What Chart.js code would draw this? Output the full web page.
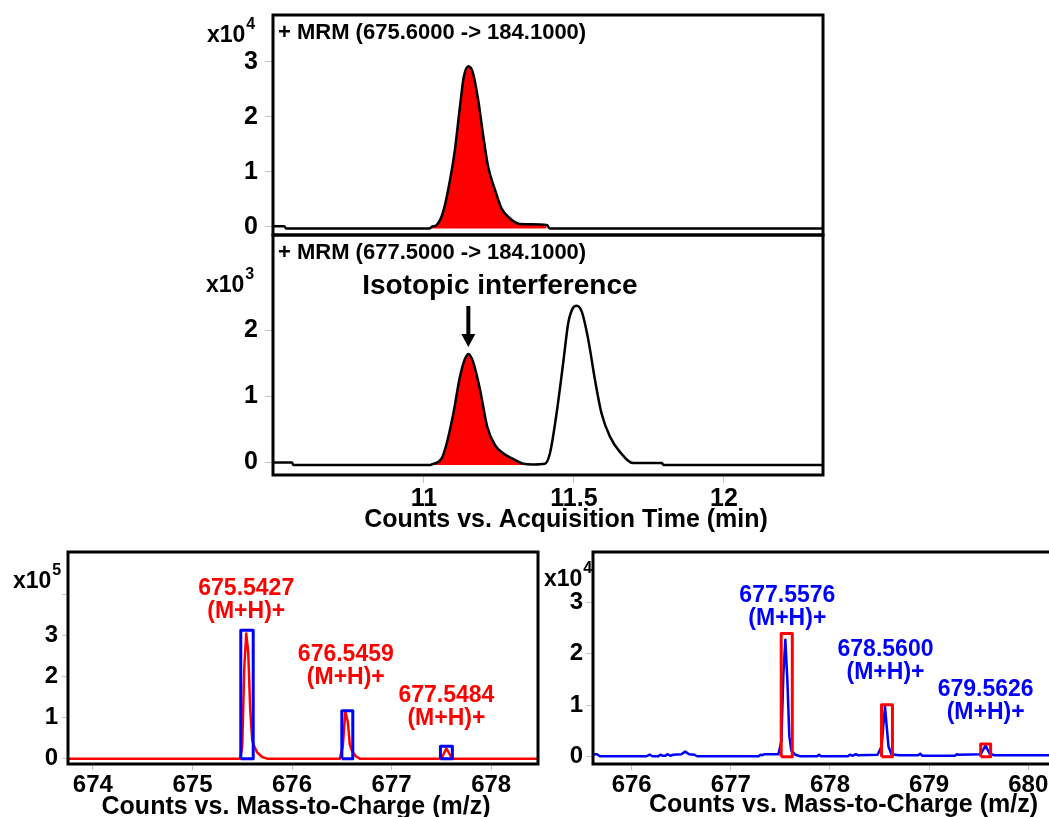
<!DOCTYPE html>
<html>
<head>
<meta charset="utf-8">
<script src="https://cdn.jsdelivr.net/npm/chart.js@4/dist/chart.umd.min.js"></script>
<style>
    html, body { margin: 0; padding: 0; background: #fff; width: 1049px; height: 817px; overflow: hidden; }
    canvas { position: absolute; }
</style>
</head>
<body>
<canvas id="topChart" width="1049" height="240" style="left:0;top:0"></canvas>
<canvas id="midChart" width="1049" height="310" style="left:0;top:230px"></canvas>
<canvas id="leftChart" width="545" height="277" style="left:0;top:540px"></canvas>
<canvas id="rightChart" width="540" height="277" style="left:530px;top:540px"></canvas>
<script>
const FONT = "'Liberation Sans', Arial, Helvetica, sans-serif";

// Chromatogram 1: + MRM (675.6000 -> 184.1000), counts x10^4
const topTime = [10.497, 10.535, 10.540, 11.020, 11.026, 11.042, 11.064, 11.087, 11.103, 11.120, 11.133, 11.148,
    11.162, 11.181, 11.198, 11.214, 11.237, 11.259, 11.287, 11.320, 11.409, 11.420, 12.33];
const topCounts = [0.01, 0.01, -0.03, -0.03, 0.0, 0.03, 0.27, 0.85, 1.39, 2.18, 2.73, 2.92,
    2.82, 2.30, 1.64, 1.09, 0.67, 0.33, 0.15, 0.05, 0.03, -0.03, -0.03];
const topFillRange = [11.02, 11.415];
const topYTicks = [0, 1, 2, 3];

// Chromatogram 2: + MRM (677.5000 -> 184.1000), counts x10^3
const midTime = [10.497, 10.56, 10.565, 11.02, 11.026, 11.059, 11.076, 11.098, 11.118, 11.133, 11.148, 11.164,
    11.187, 11.211, 11.237, 11.264, 11.298, 11.331, 11.364, 11.403, 11.42, 11.442, 11.464, 11.481,
    11.496, 11.509, 11.526, 11.548, 11.57, 11.592, 11.62, 11.653, 11.698, 11.792, 11.80, 12.33];
const midCounts = [0.0, 0.0, -0.04, -0.04, -0.03, 0.06, 0.29, 0.74, 1.25, 1.52, 1.64, 1.52,
    1.10, 0.54, 0.26, 0.14, 0.05, -0.02, -0.03, -0.02, 0.14, 0.74, 1.5, 2.11,
    2.33, 2.37, 2.28, 1.85, 1.25, 0.74, 0.39, 0.16, -0.01, -0.01, -0.04, -0.04];
const midFillRange = [11.02, 11.37];
const midYTicks = [0, 1, 2];
const timeTicks = [11, 11.5, 12];
const interferenceTime = 11.148;
const interferenceApex = 1.64;

// Mass spectrum (left, red), counts x10^5
const leftMz = [673.75, 675.48, 675.50, 675.52, 675.54, 675.56, 675.58, 675.60, 675.62, 675.65, 675.70, 675.75,
    676.48, 676.51, 676.535, 676.56, 676.58, 676.60, 676.64, 676.68,
    677.50, 677.53, 677.55, 677.58, 677.60, 677.62, 678.47];
const leftInt = [0, 0, 0.3, 2.2, 3.05, 2.6, 1.2, 0.45, 0.3, 0.15, 0.04, 0,
    0, 0.3, 1.15, 0.9, 0.35, 0.2, 0.06, 0,
    0, 0.15, 0.25, 0.12, 0.03, 0, 0];
const leftBoxFrom = [675.485, 676.50, 677.49];
const leftBoxTo = [675.61, 676.61, 677.61];
const leftBoxTop = [3.13, 1.17, 0.3];
const leftPeakMz = [675.54, 676.54, 677.55];
const leftPeakText = ['675.5427', '676.5459', '677.5484'];
const leftLabelY = [4.14, 2.53, 1.53];
const leftXTicks = [674, 675, 676, 677, 678];
const leftYTicks = [0, 1, 2, 3, 4];
const leftYLabels = ['0', '1', '2', '3', ''];

// Mass spectrum (right, blue), counts x10^4
const rightMz = [675.61, 675.65, 675.68, 676.15, 676.18, 676.21, 676.27, 676.29, 676.31, 676.34, 676.36, 676.39,
    676.42, 676.50, 676.54, 676.58, 676.63, 676.66, 677.28, 677.30, 677.32, 677.34, 677.48, 677.51,
    677.53, 677.55, 677.57, 677.59, 677.61, 677.65, 677.70, 677.87, 677.89, 677.91, 678.18, 678.20,
    678.23, 678.26, 678.28, 678.48, 678.52, 678.555, 678.59, 678.62, 678.70, 678.89, 678.91, 678.93,
    679.26, 679.28, 679.30, 679.52, 679.57, 679.61, 679.66, 680.32];
const rightInt = [0.05, 0.05, 0.01, 0.01, 0.04, 0.01, 0.01, 0.04, 0.02, 0.02, 0.05, 0.02,
    0.04, 0.05, 0.10, 0.05, 0.04, 0.01, 0.01, 0.04, 0.03, 0.05, 0.05, 0.3,
    1.6, 2.27, 1.5, 0.4, 0.12, 0.04, 0.01, 0.01, 0.04, 0.01, 0.01, 0.04,
    0.02, 0.05, 0.03, 0.04, 0.2, 0.97, 0.2, 0.05, 0.03, 0.03, 0.06, 0.02,
    0.02, 0.05, 0.04, 0.05, 0.22, 0.06, 0.03, 0.03];
const rightBoxFrom = [677.508, 678.52, 679.52];
const rightBoxTo = [677.62, 678.63, 679.62];
const rightBoxTop = [2.39, 1.01, 0.25];
const rightPeakMz = [677.57, 678.56, 679.57];
const rightPeakText = ['677.5576', '678.5600', '679.5626'];
const rightLabelY = [3.13, 2.08, 1.31];
const rightXTicks = [676, 677, 678, 679, 680];
const rightYTicks = [0, 1, 2, 3];

// helpers
function pts(xs, ys) {
    return xs.map((x, i) => ({ x: x, y: ys[i] }));
}
function between(xs, ys, lo, hi) {
    return pts(xs, ys).filter(p => p.x >= lo && p.x <= hi);
}
function boxPts(x0, x1, top) {
    return [{ x: x0, y: 0 }, { x: x0, y: top }, { x: x1, y: top }, { x: x1, y: 0 }, { x: x0, y: 0 }];
}
function lineSet(data, color, width, smooth) {
    const ds = { data: data, borderColor: color, borderWidth: width, pointRadius: 0, tension: 0, fill: false,
        borderJoinStyle: 'round' };
    if (smooth) ds.cubicInterpolationMode = 'monotone';
    return ds;
}
function boxSets(from, to, top, color) {
    return from.map((x0, i) => lineSet(boxPts(x0, to[i], top[i]), color, 3));
}

// draws frame, exponent, trace tag, axis title, peak labels, arrow
const decor = {
    id: 'decor',
    afterDraw(chart, args, o) {
        const ctx = chart.ctx, a = chart.chartArea;
        const xs = chart.scales.x, ys = chart.scales.y;
        ctx.save();
        ctx.strokeStyle = '#000';
        ctx.lineWidth = 3;
        ctx.strokeRect(a.left, a.top, a.right - a.left, a.bottom - a.top);
        ctx.fillStyle = '#000';

        if (o.exp) {
            ctx.textAlign = 'left';
            ctx.textBaseline = 'alphabetic';
            ctx.font = `bold 23px ${FONT}`;
            ctx.fillText('x10', o.exp.x, o.exp.y);
            const w = ctx.measureText('x10').width;
            ctx.font = `bold 16px ${FONT}`;
            ctx.fillText(o.exp.pow, o.exp.x + w + 1, o.exp.y - 13);
        }
        if (o.tag) {
            ctx.textAlign = 'left';
            ctx.textBaseline = 'middle';
            ctx.font = `bold 22px ${FONT}`;
            ctx.fillText(o.tag, a.left + 5, a.top + 18);
        }
        if (o.title) {
            ctx.textAlign = 'center';
            ctx.textBaseline = 'middle';
            ctx.font = `bold 25px ${FONT}`;
            ctx.fillText(o.title.text, (a.left + a.right) / 2 + o.title.dx, o.title.y);
        }
        (o.peaks || []).forEach(p => {
            const px = xs.getPixelForValue(p.x), py = ys.getPixelForValue(p.y);
            ctx.fillStyle = p.color;
            ctx.textAlign = 'center';
            ctx.textBaseline = 'middle';
            ctx.font = `bold 23px ${FONT}`;
            ctx.fillText(p.text, px, py);
            ctx.fillText('(M+H)+', px, py + 23);
        });
        if (o.note) {
            ctx.fillStyle = '#000';
            ctx.textAlign = 'center';
            ctx.textBaseline = 'middle';
            ctx.font = `bold 28px ${FONT}`;
            ctx.fillText(o.note.text, xs.getPixelForValue(o.note.x), ys.getPixelForValue(o.note.y));
        }
        if (o.arrow) {
            const px = xs.getPixelForValue(o.arrow.x);
            const tip = ys.getPixelForValue(o.arrow.y) - 7;
            ctx.fillStyle = '#000';
            ctx.fillRect(px - 2, tip - 41, 4, 30);
            ctx.beginPath();
            ctx.moveTo(px - 7, tip - 13);
            ctx.lineTo(px + 7, tip - 13);
            ctx.lineTo(px, tip);
            ctx.closePath();
            ctx.fill();
        }
        ctx.restore();
    }
};

function buildChart(id, s) {
    const tickFont = { family: FONT, size: s.tickSize, weight: 'bold' };
    return new Chart(document.getElementById(id), {
        type: 'line',
        data: { datasets: s.datasets },
        plugins: [decor],
        options: {
            responsive: false,
            animation: false,
            devicePixelRatio: 1,
            events: [],
            layout: { padding: s.pad },
            plugins: { legend: { display: false }, tooltip: { enabled: false }, decor: s.decor },
            scales: {
                x: {
                    type: 'linear', min: s.xMin, max: s.xMax, display: s.showX,
                    afterBuildTicks: sc => { sc.ticks = s.xTicks.map(v => ({ value: v })); },
                    afterFit: sc => { sc.height = s.xH; sc.paddingLeft = 0; sc.paddingRight = 0; },
                    ticks: { color: '#000', font: tickFont, padding: s.xTickPad, maxRotation: 0, autoSkip: false,
                        callback: v => String(v) },
                    grid: { drawOnChartArea: false, tickLength: s.xTickLen, color: '#c4c4c4', lineWidth: 1 },
                    border: { display: false }
                },
                y: {
                    type: 'linear', min: s.yMin, max: s.yMax,
                    afterBuildTicks: sc => { sc.ticks = s.yTicks.map(v => ({ value: v })); },
                    afterFit: sc => { sc.width = s.yW; sc.paddingTop = 0; sc.paddingBottom = 0; },
                    ticks: { color: '#000', font: tickFont, padding: s.yTickPad, autoSkip: false,
                        callback: (v, i) => s.yLabels ? s.yLabels[i] : String(v) },
                    grid: { drawOnChartArea: false, tickLength: s.yTickLen, color: '#c4c4c4', lineWidth: 1 },
                    border: { display: false }
                }
            }
        }
    });
}

// top chromatogram
buildChart('topChart', {
    datasets: [
        lineSet(pts(topTime, topCounts), '#000', 2.5, true),
        Object.assign(lineSet(between(topTime, topCounts, topFillRange[0], topFillRange[1]), 'rgba(0,0,0,0)', 0, true),
            { fill: { value: -0.03 }, backgroundColor: '#ff0000' })
    ],
    xMin: 10.497, xMax: 12.33, xTicks: timeTicks, showX: false, xH: 0, xTickLen: 8, xTickPad: 3,
    yMin: -0.15, yMax: 3.85, yTicks: topYTicks, yW: 273, yTickLen: 8, yTickPad: 7,
    tickSize: 25,
    pad: { left: 0, top: 15, right: 226, bottom: 5 },
    decor: { exp: { x: 207, y: 42, pow: '4' }, tag: '+ MRM (675.6000 -> 184.1000)' }
});

// second chromatogram
buildChart('midChart', {
    datasets: [
        lineSet(pts(midTime, midCounts), '#000', 2.5, true),
        Object.assign(lineSet(between(midTime, midCounts, midFillRange[0], midFillRange[1]), 'rgba(0,0,0,0)', 0, true),
            { fill: { value: -0.04 }, backgroundColor: '#ff0000' })
    ],
    xMin: 10.497, xMax: 12.33, xTicks: timeTicks, showX: true, xH: 40, xTickLen: 8, xTickPad: 1,
    yMin: -0.19, yMax: 3.44, yTicks: midYTicks, yW: 273, yTickLen: 8, yTickPad: 7,
    tickSize: 25,
    pad: { left: 0, top: 5, right: 226, bottom: 25 },
    decor: {
        exp: { x: 206, y: 62, pow: '3' },
        tag: '+ MRM (677.5000 -> 184.1000)',
        title: { text: 'Counts vs. Acquisition Time (min)', dx: 18, y: 290 },
        note: { text: 'Isotopic interference', x: 11.253, y: 2.67 },
        arrow: { x: interferenceTime, y: interferenceApex }
    }
});

// left mass spectrum
buildChart('leftChart', {
    datasets: boxSets(leftBoxFrom, leftBoxTo, leftBoxTop, '#0000ff')
        .concat([lineSet(pts(leftMz, leftInt), '#ff0000', 2.5)]),
    xMin: 673.75, xMax: 678.47, xTicks: leftXTicks, showX: true, xH: 40, xTickLen: 6, xTickPad: 1,
    yMin: -0.13, yMax: 5.04, yTicks: leftYTicks, yLabels: leftYLabels, yW: 68, yTickLen: 6, yTickPad: 4,
    tickSize: 24,
    pad: { left: 0, top: 12, right: 7, bottom: 13 },
    decor: {
        exp: { x: 13, y: 48, pow: '5' },
        title: { text: 'Counts vs. Mass-to-Charge (m/z)', dx: -7, y: 267 },
        peaks: leftPeakMz.map((x, i) => ({ x: x, y: leftLabelY[i], text: leftPeakText[i], color: '#ff0000' }))
    }
});

// right mass spectrum
buildChart('rightChart', {
    datasets: boxSets(rightBoxFrom, rightBoxTo, rightBoxTop, '#ff0000')
        .concat([lineSet(pts(rightMz, rightInt), '#0000ff', 2.5)]),
    xMin: 675.61, xMax: 680.32, xTicks: rightXTicks, showX: true, xH: 40, xTickLen: 6, xTickPad: 1,
    yMin: -0.14, yMax: 3.97, yTicks: rightYTicks, yW: 63, yTickLen: 7, yTickPad: 3,
    tickSize: 24,
    pad: { left: 0, top: 12, right: 10, bottom: 13 },
    decor: {
        exp: { x: 14, y: 46, pow: '4' },
        title: { text: 'Counts vs. Mass-to-Charge (m/z)', dx: 17, y: 265 },
        peaks: rightPeakMz.map((x, i) => ({ x: x, y: rightLabelY[i], text: rightPeakText[i], color: '#0000ff' }))
    }
});
</script>
</body>
</html>
